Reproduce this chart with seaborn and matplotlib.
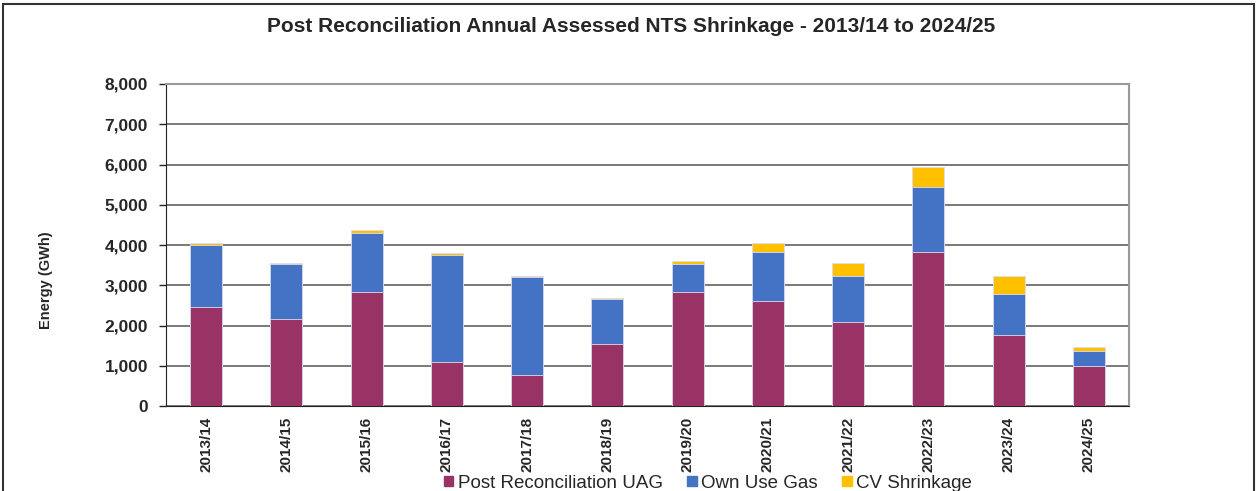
import matplotlib
matplotlib.use("Agg")
import matplotlib.pyplot as plt
from matplotlib.patches import Rectangle
from matplotlib.ticker import FuncFormatter, MultipleLocator
import seaborn as sns
import numpy as np
import pandas as pd

years = ["2013/14", "2014/15", "2015/16", "2016/17", "2017/18", "2018/19",
         "2019/20", "2020/21", "2021/22", "2022/23", "2023/24", "2024/25"]
uag = [2470, 2165, 2835, 1085, 763, 1542, 2844, 2604, 2098, 3814, 1758, 1003]
own_use_gas = [1540, 1365, 1460, 2660, 2437, 1120, 688, 1210, 1136, 1634, 1036, 365]
cv_shrinkage = [30, 35, 75, 60, 25, 33, 67, 241, 315, 489, 440, 108]

series = ["Post Reconciliation UAG", "Own Use Gas", "CV Shrinkage"]
colors = {"Post Reconciliation UAG": "#993366",
          "Own Use Gas": "#4472C4",
          "CV Shrinkage": "#FFC000"}

# cumulative tops for stacking (drawn back to front)
df = pd.DataFrame({"year": years, "uag": uag, "oug": own_use_gas, "cv": cv_shrinkage})
df["top_oug"] = df["uag"] + df["oug"]
df["top_cv"] = df["top_oug"] + df["cv"]

sns.set_style("white")
plt.rcParams["font.family"] = ["Liberation Sans", "DejaVu Sans"]

fig = plt.figure(figsize=(12.6, 4.91), dpi=100)
ax = fig.add_axes([166 / 1260, 1 - 406 / 491, (1129 - 166) / 1260, (406 - 84) / 491])

for col, name in [("top_cv", "CV Shrinkage"), ("top_oug", "Own Use Gas"), ("uag", "Post Reconciliation UAG")]:
    sns.barplot(data=df, x="year", y=col, color=colors[name], width=0.4,
                edgecolor="#dcdcf0", linewidth=0.6, saturation=1, ax=ax, zorder=3)

ax.set_ylim(0, 8000)
ax.set_xlim(-0.5, len(years) - 0.5)
ax.yaxis.set_major_locator(MultipleLocator(1000))
ax.yaxis.set_major_formatter(FuncFormatter(lambda v, p: f"{int(v):,}"))
ax.grid(axis="y", color="#555555", linewidth=1.1, zorder=0)
ax.set_axisbelow(True)

ax.set_xlabel("")
ax.set_ylabel("Energy (GWh)", fontsize=10.5, fontweight="bold")
ax.yaxis.set_label_coords((53 - 166) / 963, (406 - 280) / 322)
ax.set_xticks(np.arange(len(years)))
ax.set_xticklabels(years, rotation=90, fontsize=11, fontweight="bold")
for lbl in ax.get_yticklabels():
    lbl.set_fontsize(12.5)
    lbl.set_fontweight("bold")

# x ticks sit between categories
ax.set_xticks(np.arange(len(years) + 1) - 0.5, minor=True)
ax.tick_params(axis="x", which="major", length=0, pad=8)
ax.tick_params(axis="x", which="minor", length=5, width=1, color="#222222", direction="out")
ax.tick_params(axis="y", length=5, width=1, color="#222222", direction="out", pad=8, left=True)

for side in ["top", "right"]:
    ax.spines[side].set_color("#999999")
    ax.spines[side].set_linewidth(1.5)
ax.spines["left"].set_color("#222222")
ax.spines["bottom"].set_color("#222222")

fig.text(631 / 1260, 1 - 27 / 491, "Post Reconciliation Annual Assessed NTS Shrinkage - 2013/14 to 2024/25",
         ha="center", va="center", fontsize=15, fontweight="bold")

handles = [Rectangle((0, 0), 1, 1, color=colors[s]) for s in series]
fig.legend(handles, series, loc="center", bbox_to_anchor=(708 / 1260, 1 - 483 / 491),
           ncol=3, frameon=False, fontsize=13.5, handlelength=0.5, handleheight=0.5,
           handletextpad=0.25, columnspacing=1.3, borderpad=0)

# outer chart border
fig.patches.append(Rectangle((3 / 1260, -0.01), (1254 - 3) / 1260, 1 - 4 / 491 + 0.01,
                             transform=fig.transFigure, fill=False,
                             edgecolor="#333333", linewidth=1.5))

fig.savefig("out.png", dpi=100)
